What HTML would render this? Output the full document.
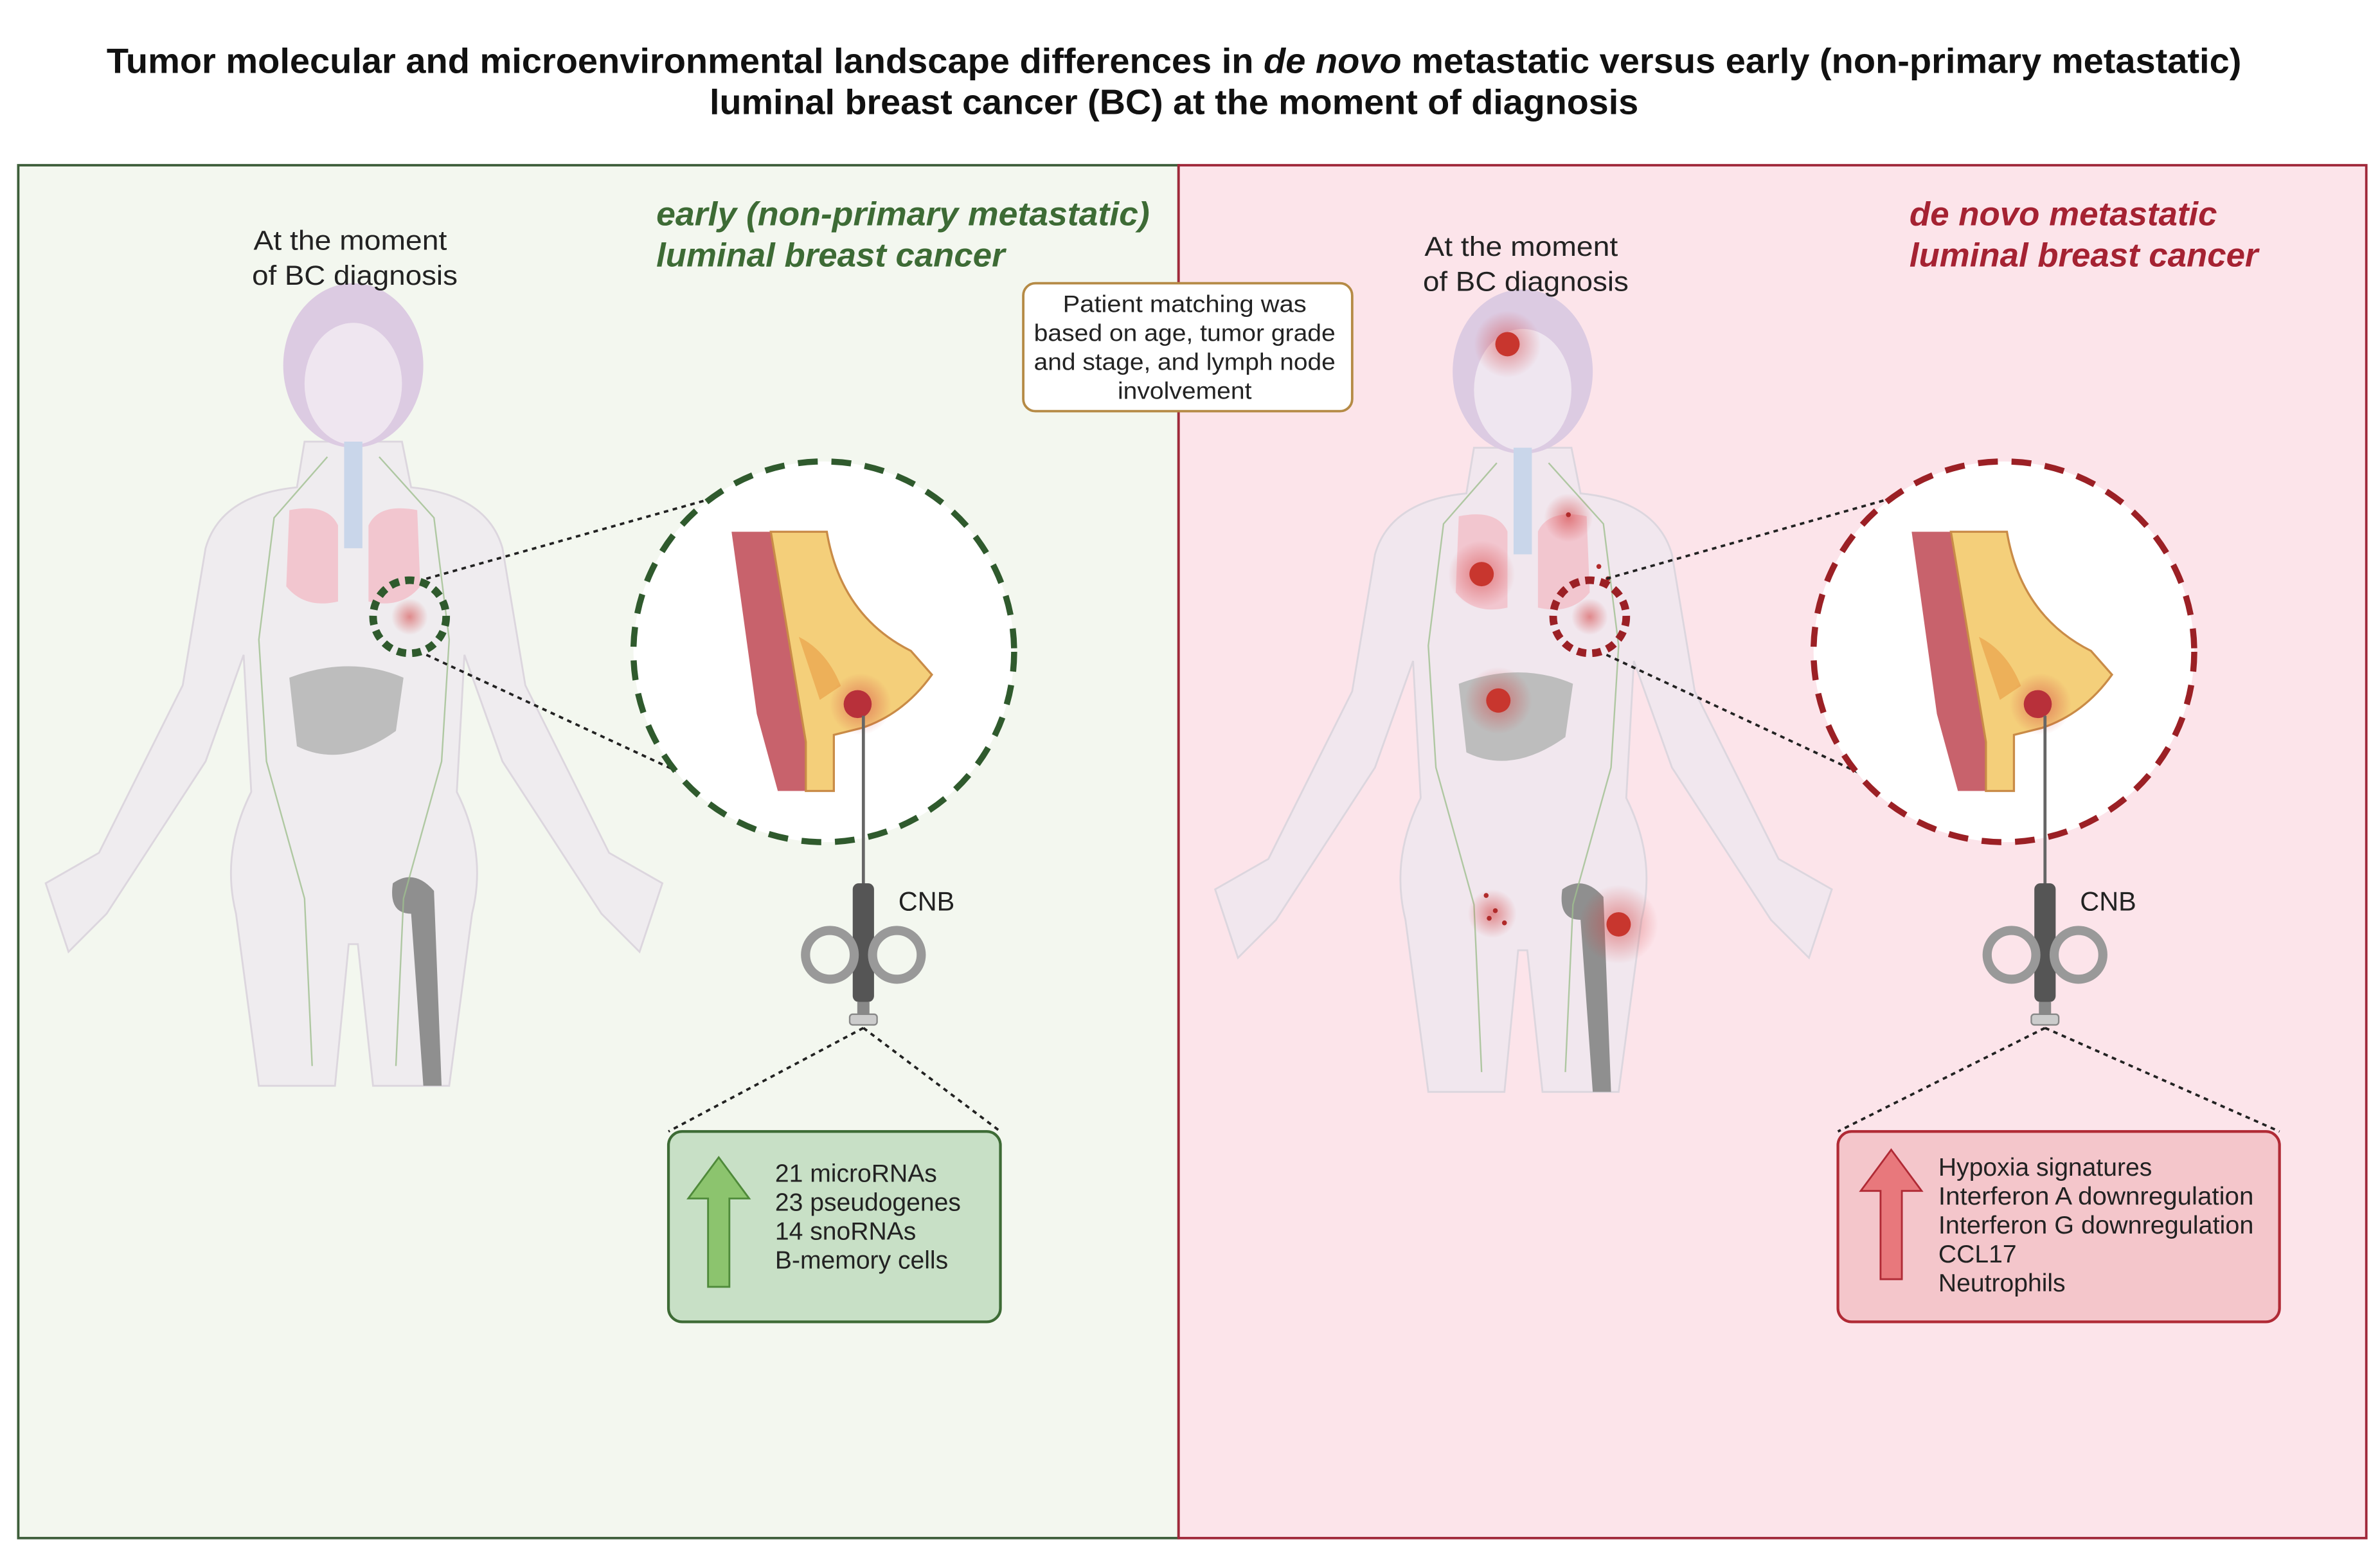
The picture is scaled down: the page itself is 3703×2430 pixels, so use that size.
<!DOCTYPE html>
<html><head><meta charset="utf-8"><style>
html,body{margin:0;padding:0;background:#fff;}
svg{display:block;}
text{font-family:"Liberation Sans",sans-serif;}
</style></head><body>
<svg width="3703" height="2430" viewBox="0 0 1563 1025.7" preserveAspectRatio="none" xmlns="http://www.w3.org/2000/svg">
<defs>
<radialGradient id="glow"><stop offset="0" stop-color="#d23a3a" stop-opacity="0.55"/><stop offset="1" stop-color="#d23a3a" stop-opacity="0"/></radialGradient>
<g id="body">
  <path d="M200 290 L264 290 L270 320 Q320 325 330 360 L345 450 L400 560 L435 580 L420 625 L395 600 L330 500 L305 430 L300 520 Q320 560 310 600 L295 713 L245 713 L235 620 L229 620 L220 713 L170 713 L155 600 Q145 560 165 520 L160 430 L135 500 L70 600 L45 625 L30 580 L65 560 L120 450 L135 360 Q145 325 195 320 Z" fill="#ede8ef" fill-opacity="0.75" stroke="#dcd6de" stroke-width="1.2"/>
  <ellipse cx="232" cy="240" rx="46" ry="54" fill="#dccbe2"/>
  <ellipse cx="232" cy="252" rx="32" ry="40" fill="#efe6f0"/>
  <rect x="226" y="290" width="12" height="70" fill="#c9d6ea"/>
  <path d="M190 335 Q215 330 222 345 L222 395 Q200 400 188 385 Z" fill="#f2c6cf"/>
  <path d="M274 335 Q249 330 242 345 L242 395 Q264 400 276 385 Z" fill="#f2c6cf"/>
  <path d="M190 445 Q230 430 265 445 L260 480 Q225 505 195 490 Z" fill="#bdbdbd"/>
  <path d="M258 580 Q272 570 285 585 L290 713 L278 713 L270 600 Q255 600 258 580 Z" fill="#8f8f8f"/>
  <g stroke="#9fbf8f" stroke-width="1" fill="none" opacity="0.8">
    <path d="M215 300 L180 340 L170 420 L175 500 L200 590 L205 700"/>
    <path d="M249 300 L285 340 L295 420 L290 500 L265 590 L260 700"/>
  </g>
</g>
<g id="breast">
  <path d="M-68 -90 L-40 -90 L-15 60 L-15 95 L-35 95 L-50 40 Z" fill="#c8626c"/>
  <path d="M-40 -90 L0 -90 Q10 -30 60 -5 L75 12 Q55 40 25 50 L5 55 L5 95 L-15 95 L-15 60 Z" fill="#f4cf7a" stroke="#c98b47" stroke-width="1.5"/>
  <path d="M-20 -15 Q0 -5 10 20 L-5 30 Z" fill="#e9a24c" opacity="0.7"/>
  <circle cx="24" cy="33" r="22" fill="url(#glow)"/>
  <circle cx="22" cy="33" r="10" fill="#b8303a"/>
</g>
</defs>
<text x="771" y="48" text-anchor="middle" font-size="23" font-weight="bold" fill="#111" textLength="1402" lengthAdjust="spacingAndGlyphs">Tumor molecular and microenvironmental landscape differences in <tspan font-style="italic">de novo</tspan> metastatic versus early (non-primary metastatic)</text>
<text x="771" y="75" text-anchor="middle" font-size="23" font-weight="bold" fill="#111" textLength="610" lengthAdjust="spacingAndGlyphs">luminal breast cancer (BC) at the moment of diagnosis</text>

<rect x="12" y="108.5" width="762" height="901.5" fill="#f3f7ef" stroke="#3d5e3a" stroke-width="1.6"/>
<rect x="774" y="108.5" width="780" height="901.5" fill="#fce4ea" stroke="#a0283a" stroke-width="1.6"/>

<use href="#body"/>
<use href="#body" transform="translate(768,4)"/>
<g>
  <circle cx="990" cy="226" r="22" fill="url(#glow)"/><circle cx="990" cy="226" r="8" fill="#c8362e"/>
  <circle cx="973" cy="377" r="22" fill="url(#glow)"/><circle cx="973" cy="377" r="8" fill="#c8362e"/>
  <circle cx="984" cy="460" r="22" fill="url(#glow)"/><circle cx="984" cy="460" r="8" fill="#c8362e"/>
  <circle cx="1063" cy="607" r="26" fill="url(#glow)"/><circle cx="1063" cy="607" r="8" fill="#c8362e"/>
  <circle cx="1030" cy="340" r="16" fill="url(#glow)"/>
  <circle cx="980" cy="600" r="16" fill="url(#glow)"/>
  <g fill="#b02a2a"><circle cx="976" cy="588" r="1.6"/><circle cx="982" cy="598" r="1.6"/><circle cx="988" cy="606" r="1.6"/><circle cx="978" cy="603" r="1.6"/><circle cx="1050" cy="372" r="1.6"/><circle cx="1056" cy="380" r="1.6"/><circle cx="1030" cy="338" r="1.6"/></g>
</g>

<g font-size="18" fill="#222" text-anchor="middle">
<text x="230" y="164" textLength="127" lengthAdjust="spacingAndGlyphs">At the moment</text>
<text x="233" y="187" textLength="135" lengthAdjust="spacingAndGlyphs">of BC diagnosis</text>
<text x="999" y="168" textLength="127" lengthAdjust="spacingAndGlyphs">At the moment</text>
<text x="1002" y="191" textLength="135" lengthAdjust="spacingAndGlyphs">of BC diagnosis</text>
</g>

<text x="431" y="148" font-size="22" font-weight="bold" font-style="italic" fill="#3d6b35" textLength="324" lengthAdjust="spacingAndGlyphs">early (non-primary metastatic)</text>
<text x="431" y="175" font-size="22" font-weight="bold" font-style="italic" fill="#3d6b35" textLength="229" lengthAdjust="spacingAndGlyphs">luminal breast cancer</text>
<text x="1254" y="148" font-size="22" font-weight="bold" font-style="italic" fill="#a52232" textLength="202" lengthAdjust="spacingAndGlyphs">de novo metastatic</text>
<text x="1254" y="175" font-size="22" font-weight="bold" font-style="italic" fill="#a52232" textLength="229" lengthAdjust="spacingAndGlyphs">luminal breast cancer</text>

<rect x="672" y="186" width="216" height="84" rx="8" fill="#fff" stroke="#b58a45" stroke-width="1.6"/>
<g font-size="15.5" fill="#222" text-anchor="middle">
<text x="778" y="205" textLength="160" lengthAdjust="spacingAndGlyphs">Patient matching was</text>
<text x="778" y="224" textLength="198" lengthAdjust="spacingAndGlyphs">based on age, tumor grade</text>
<text x="778" y="243" textLength="198" lengthAdjust="spacingAndGlyphs">and stage, and lymph node</text>
<text x="778" y="262" textLength="88" lengthAdjust="spacingAndGlyphs">involvement</text>
</g>

<g stroke="#222" stroke-width="1.6" stroke-dasharray="3 3" fill="none">
<line x1="280" y1="380" x2="476" y2="325"/><line x1="280" y1="430" x2="448" y2="508"/>
<line x1="1055" y1="380" x2="1250" y2="325"/><line x1="1055" y1="430" x2="1222" y2="508"/>
<line x1="567" y1="675" x2="439" y2="743"/><line x1="567" y1="675" x2="657" y2="743"/>
<line x1="1343" y1="675" x2="1207" y2="743"/><line x1="1343" y1="675" x2="1497" y2="743"/>
</g>
<circle cx="269" cy="405" r="24" fill="none" stroke="#2f5a2d" stroke-width="5" stroke-dasharray="6 4"/>
<circle cx="269" cy="405" r="12" fill="url(#glow)"/>
<circle cx="1044" cy="405" r="24" fill="none" stroke="#9b2025" stroke-width="5" stroke-dasharray="6 4"/>
<circle cx="1044" cy="405" r="12" fill="url(#glow)"/>

<circle cx="541" cy="428" r="125" fill="#fff" stroke="#2f5a2d" stroke-width="4" stroke-dasharray="13 9"/>
<use href="#breast" transform="translate(543,432) scale(0.92)"/>
<circle cx="1316" cy="428" r="125" fill="#fff" stroke="#9b2025" stroke-width="4" stroke-dasharray="13 9"/>
<use href="#breast" transform="translate(1318,432) scale(0.92)"/>

<g id="syr">
<line x1="567" y1="470" x2="567" y2="585" stroke="#666" stroke-width="2"/>
<rect x="560" y="580" width="14" height="78" rx="4" fill="#555"/>
<circle cx="545" cy="627" r="16" fill="none" stroke="#999" stroke-width="6"/>
<circle cx="589" cy="627" r="16" fill="none" stroke="#999" stroke-width="6"/>
<rect x="563" y="658" width="8" height="10" fill="#888"/>
<rect x="558" y="666" width="18" height="7" rx="2" fill="#ccc" stroke="#888"/>
</g>
<use href="#syr" transform="translate(776,0)"/>
<text x="590" y="598" font-size="17.5" fill="#222">CNB</text>
<text x="1366" y="598" font-size="17.5" fill="#222">CNB</text>

<rect x="439" y="743" width="218" height="125" rx="9" fill="#c8e0c6" stroke="#3d6b35" stroke-width="1.8"/>
<path d="M472 760 L492 787 L479 787 L479 845 L465 845 L465 787 L452 787 Z" fill="#8cc46e" stroke="#4f8a3a" stroke-width="1.2"/>
<g font-size="16.5" fill="#222">
<text x="509" y="776">21 microRNAs</text><text x="509" y="795">23 pseudogenes</text><text x="509" y="814">14 snoRNAs</text><text x="509" y="833">B-memory cells</text>
</g>

<rect x="1207" y="743" width="290" height="125" rx="9" fill="#f4c6cb" stroke="#b02a35" stroke-width="1.8"/>
<path d="M1242 755 L1262 782 L1249 782 L1249 840 L1235 840 L1235 782 L1222 782 Z" fill="#e8787c" stroke="#b02a35" stroke-width="1.2"/>
<g font-size="16.5" fill="#222">
<text x="1273" y="772">Hypoxia signatures</text><text x="1273" y="791" textLength="207" lengthAdjust="spacingAndGlyphs">Interferon A downregulation</text><text x="1273" y="810" textLength="207" lengthAdjust="spacingAndGlyphs">Interferon G downregulation</text><text x="1273" y="829">CCL17</text><text x="1273" y="848">Neutrophils</text>
</g>
</svg>
</body></html>
